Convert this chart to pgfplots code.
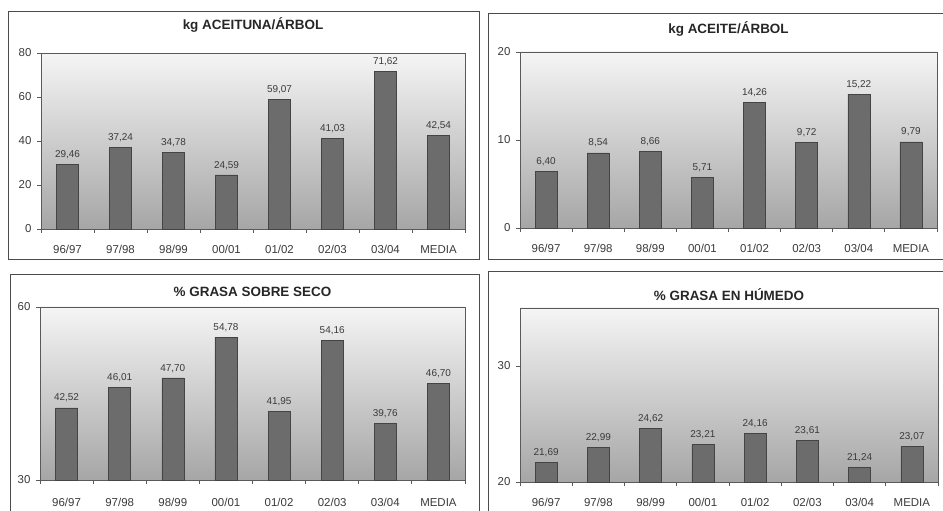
\documentclass[border=0pt]{standalone}
\usepackage{pgfplots}
\pgfplotsset{compat=1.18}
\usepackage{fontspec}
\setmainfont{Liberation Sans}
\definecolor{barfill}{HTML}{6C6C6C}
\definecolor{baredge}{HTML}{444444}
\definecolor{frame}{HTML}{5A5A5A}
\definecolor{txt}{HTML}{3A3A3A}
\pgfplotsset{
  panel/.style={
    scale only axis,
    anchor=south west,
    xmin=-0.5, xmax=7.5,
    xtick={0,...,7},
    xticklabels={96/97,97/98,98/99,00/01,01/02,02/03,03/04,MEDIA},
    minor xtick={-0.5,0.5,...,7.5},
    major x tick style={draw=none},
    minor tick length=4bp,
    major tick length=4bp,
    tick align=outside,
    xtick pos=bottom, ytick pos=left,
    axis line style={frame, line width=0.8bp},
    every tick/.style={frame, line width=0.8bp},
    axis background/.style={shade, top color=black!4, bottom color=black!35},
    tick label style={font=\fontsize{11.5}{12}\selectfont, text=txt},
    /pgf/number format/assume math mode=true,
    xticklabel style={yshift=-9bp},
    yticklabel style={xshift=-2bp},
    ybar, bar width=22bp,
    nodes near coords,
    nodes near coords style={font=\fontsize{10}{11}\selectfont, text=txt, yshift=2bp,
      /pgf/number format/.cd, fixed, fixed zerofill, precision=2, use comma, assume math mode=true},
    every axis title/.style={font=\bfseries\fontsize{13.5}{15}\selectfont, text=black!85, at={(0.5,1)}, anchor=center},
    clip=false,
  },
  bars/.style={fill=barfill, draw=baredge, line width=0.6bp},
}
\begin{document}
\begin{tikzpicture}
\path[use as bounding box] (0,0) rectangle (943bp,511bp);
% panel frames
\draw[black!70, line width=1bp] (8bp,499bp) rectangle (479bp,251bp);
\draw[black!70, line width=1bp] (488bp,497bp) rectangle (950bp,251bp);
\draw[black!70, line width=1bp] (10bp,236bp) rectangle (479bp,-10bp);
\draw[black!70, line width=1bp] (488bp,239bp) rectangle (950bp,-10bp);

\begin{axis}[panel, at={(41bp,282bp)}, width=424bp, height=176bp,
  ymin=0, ymax=80, ytick={0,20,40,60,80},
  title={kg ACEITUNA/ÁRBOL}, title style={yshift=28bp}]
\addplot[bars] coordinates {(0,29.46) (1,37.24) (2,34.78) (3,24.59) (4,59.07) (5,41.03) (6,71.62) (7,42.54)};
\end{axis}

\begin{axis}[panel, at={(520bp,283bp)}, width=417bp, height=176bp,
  ymin=0, ymax=20, ytick={0,10,20},
  title={kg ACEITE/ÁRBOL}, title style={yshift=23bp}]
\addplot[bars] coordinates {(0,6.40) (1,8.54) (2,8.66) (3,5.71) (4,14.26) (5,9.72) (6,15.22) (7,9.79)};
\end{axis}

\begin{axis}[panel, at={(40bp,31bp)}, width=425bp, height=173bp,
  ymin=30, ymax=60, ytick={30,60},
  title={\% GRASA SOBRE SECO}, title style={yshift=15bp},
  xticklabel style={yshift=-2bp}]
\addplot[bars] coordinates {(0,42.52) (1,46.01) (2,47.70) (3,54.78) (4,41.95) (5,54.16) (6,39.76) (7,46.70)};
\end{axis}

\begin{axis}[panel, at={(520bp,29bp)}, width=418bp, height=174bp,
  ymin=20, ymax=35, ytick={20,30},
  title={\% GRASA EN HÚMEDO}, title style={yshift=13bp}]
\addplot[bars] coordinates {(0,21.69) (1,22.99) (2,24.62) (3,23.21) (4,24.16) (5,23.61) (6,21.24) (7,23.07)};
\end{axis}
\end{tikzpicture}
\end{document}
